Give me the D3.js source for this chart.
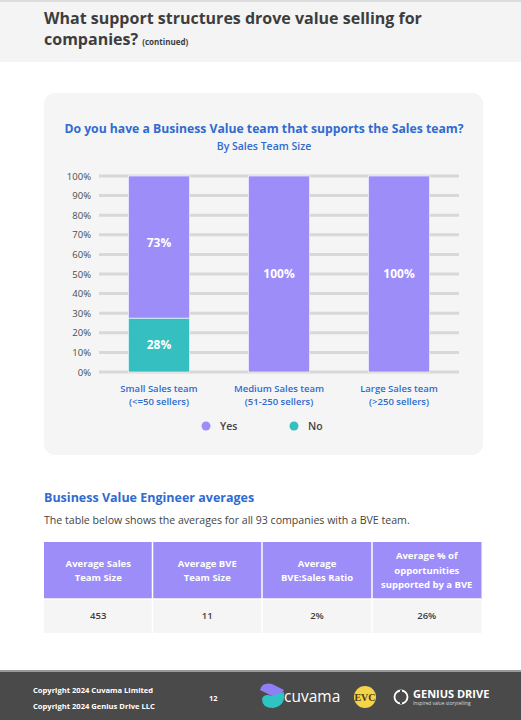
<!DOCTYPE html>
<html>
<head>
<meta charset="utf-8">
<script src="https://cdn.jsdelivr.net/npm/d3@7"></script>
<style>
  body { margin: 0; background: #fff; }
  svg { display: block; font-family: "Open Sans", sans-serif; }
</style>
</head>
<body>
<div id="page"></div>
<script>
// data
var categories = ['Small Sales team', 'Medium Sales team', 'Large Sales team'];
var subLabels = ['(<=50 sellers)', '(51-250 sellers)', '(>250 sellers)'];
var yesValues = [72.5, 100, 100];
var noValues = [27.5, 0, 0];
var yTicks = [0, 10, 20, 30, 40, 50, 60, 70, 80, 90, 100];
var tableHeaders = [['Average Sales', 'Team Size'], ['Average BVE', 'Team Size'], ['Average', 'BVE:Sales Ratio'], ['Average % of', 'opportunities', 'supported by a BVE']];
var tableValues = ['453', '11', '2%', '26%'];

var purple = '#9d8df9';
var teal = '#35bfc1';
var blue = '#2f6bd0';

var W = 521, H = 720;
var svg = d3.select('#page').append('svg').attr('width', W).attr('height', H);

// header
svg.append('rect').attr('x', 0).attr('y', 0).attr('width', W).attr('height', 62).attr('fill', '#f4f4f4');
svg.append('rect').attr('x', 0).attr('y', 0).attr('width', W).attr('height', 2).attr('fill', '#dcdcdc');
svg.append('text').attr('x', 44).attr('y', 24)
  .attr('font-size', 16).attr('font-weight', 700).attr('fill', '#3d3d3d')
  .text('What support structures drove value selling for');
var t2 = svg.append('text').attr('x', 44).attr('y', 45)
  .attr('font-size', 16).attr('font-weight', 700).attr('fill', '#3d3d3d');
t2.append('tspan').text('companies? ');
t2.append('tspan').attr('font-size', 8).text('(continued)');

// chart panel
svg.append('rect').attr('x', 44).attr('y', 93).attr('width', 439).attr('height', 362)
  .attr('rx', 11).attr('fill', '#f5f5f5');

svg.append('text').attr('x', 264).attr('y', 133).attr('text-anchor', 'middle')
  .attr('font-size', 12.2).attr('font-weight', 700).attr('fill', blue)
  .text('Do you have a Business Value team that supports the Sales team?');
svg.append('text').attr('x', 264).attr('y', 150).attr('text-anchor', 'middle')
  .attr('font-size', 10.5).attr('font-weight', 600).attr('fill', blue)
  .text('By Sales Team Size');

var x = d3.scaleBand().domain(categories).range([99, 459]).paddingInner(0.49).paddingOuter(0.245);
var y = d3.scaleLinear().domain([0, 100]).range([372, 176]);

// grid
var g = svg.append('g');
g.selectAll('.grid').data(yTicks).enter().append('line')
  .attr('x1', 99).attr('x2', 459)
  .attr('y1', function (d) { return y(d); }).attr('y2', function (d) { return y(d); })
  .attr('stroke', '#d8d8d8').attr('stroke-width', 3);

var yAxis = svg.append('g').attr('transform', 'translate(99,0)')
  .call(d3.axisLeft(y).tickValues(yTicks).tickSize(0).tickPadding(8).tickFormat(function (d) { return d + '%'; }));
yAxis.select('.domain').remove();
yAxis.selectAll('text').attr('font-family', 'Open Sans').attr('font-size', 9.5).attr('fill', '#4a4a4a');

// stacked bars
var rows = categories.map(function (c, i) { return { cat: c, Yes: yesValues[i], No: noValues[i] }; });
var stack = d3.stack().keys(['No', 'Yes'])(rows);
var colors = { Yes: purple, No: teal };

stack.forEach(function (layer) {
  var lg = svg.append('g');
  lg.selectAll('rect').data(layer.filter(function (d) { return d[1] - d[0] > 0; })).enter().append('rect')
    .attr('x', function (d) { return x(d.data.cat); })
    .attr('width', x.bandwidth())
    .attr('y', function (d) { return y(d[1]); })
    .attr('height', function (d) { return y(d[0]) - y(d[1]); })
    .attr('fill', colors[layer.key])
    .attr('stroke', '#fff').attr('stroke-width', 0.6);
  lg.selectAll('text').data(layer.filter(function (d) { return d[1] - d[0] > 0; })).enter().append('text')
    .attr('x', function (d) { return x(d.data.cat) + x.bandwidth() / 2; })
    .attr('y', function (d) { return (y(d[0]) + y(d[1])) / 2 - (d[1] - d[0] < 100 && d[0] > 0 ? 4 : 0); })
    .attr('dy', '0.35em').attr('text-anchor', 'middle')
    .attr('font-size', 12).attr('font-weight', 700).attr('fill', '#fff')
    .text(function (d) { return Math.round(d[1] - d[0]) + '%'; });
});

// x labels
var xl = svg.append('g');
categories.forEach(function (c, i) {
  var cx = x(c) + x.bandwidth() / 2;
  xl.append('text').attr('x', cx).attr('y', 392).attr('text-anchor', 'middle')
    .attr('font-size', 9.5).attr('font-weight', 600).attr('fill', blue).text(c);
  xl.append('text').attr('x', cx).attr('y', 405).attr('text-anchor', 'middle')
    .attr('font-size', 9.5).attr('font-weight', 600).attr('fill', blue).text(subLabels[i]);
});

// legend
var legend = [{ k: 'Yes', c: purple, x: 206 }, { k: 'No', c: teal, x: 294 }];
legend.forEach(function (l) {
  svg.append('circle').attr('cx', l.x).attr('cy', 426).attr('r', 4.5).attr('fill', l.c);
  svg.append('text').attr('x', l.x + 14).attr('y', 426).attr('dy', '0.35em')
    .attr('font-size', 10.5).attr('font-weight', 600).attr('fill', '#444').text(l.k);
});

// BVE section
svg.append('text').attr('x', 44).attr('y', 502)
  .attr('font-size', 12.5).attr('font-weight', 700).attr('fill', blue)
  .text('Business Value Engineer averages');
svg.append('text').attr('x', 44).attr('y', 524)
  .attr('font-size', 10.6).attr('fill', '#444')
  .text('The table below shows the averages for all 93 companies with a BVE team.');

var colX = [44, 152.5, 262, 372, 481.5];
var tbl = svg.append('g');
tableHeaders.forEach(function (lines, i) {
  var x0 = colX[i], w = colX[i + 1] - colX[i];
  tbl.append('rect').attr('x', x0).attr('y', 542).attr('width', w).attr('height', 57).attr('fill', purple);
  tbl.append('rect').attr('x', x0).attr('y', 599).attr('width', w).attr('height', 34).attr('fill', '#f5f5f5');
  var lh = 14.5, top = 570.5 - (lines.length - 1) * lh / 2;
  lines.forEach(function (ln, j) {
    tbl.append('text').attr('x', x0 + w / 2).attr('y', top + j * lh).attr('dy', '0.35em')
      .attr('text-anchor', 'middle').attr('font-size', 9.5).attr('font-weight', 700).attr('fill', '#fff').text(ln);
  });
  tbl.append('text').attr('x', x0 + w / 2).attr('y', 616).attr('dy', '0.35em')
    .attr('text-anchor', 'middle').attr('font-size', 9.5).attr('font-weight', 600).attr('fill', '#3d3d3d').text(tableValues[i]);
  if (i > 0) {
    tbl.append('line').attr('x1', x0).attr('x2', x0).attr('y1', 542).attr('y2', 633)
      .attr('stroke', '#fff').attr('stroke-width', 1.5);
  }
});
tbl.append('line').attr('x1', 44).attr('x2', 481.5).attr('y1', 599).attr('y2', 599)
  .attr('stroke', '#fff').attr('stroke-width', 1.5);

// footer
svg.append('rect').attr('x', 0).attr('y', 670).attr('width', W).attr('height', 50).attr('fill', '#4a4a4a');
svg.append('rect').attr('x', 0).attr('y', 670).attr('width', W).attr('height', 2).attr('fill', '#9a9a9a');
svg.append('text').attr('x', 33).attr('y', 693).attr('font-size', 7.6).attr('font-weight', 700).attr('fill', '#fff')
  .text('Copyright 2024 Cuvama Limited');
svg.append('text').attr('x', 33).attr('y', 709).attr('font-size', 7.6).attr('font-weight', 700).attr('fill', '#fff')
  .text('Copyright 2024 Genius Drive LLC');
svg.append('text').attr('x', 209).attr('y', 701).attr('font-size', 7.5).attr('font-weight', 700).attr('fill', '#fff')
  .text('12');
// cuvama logo
var lg1 = svg.append('g');
lg1.append('path').attr('d', 'M260,690 Q262,682 272,684 L284,690 Q280,697 272,696 Z').attr('fill', '#8f7ff5');
lg1.append('path').attr('d', 'M262,699 Q264,693 272,696 L284,692 Q286,706 273,708 Q262,708 262,699 Z').attr('fill', '#2fc3c2');
svg.append('text').attr('x', 284).attr('y', 702).attr('font-size', 15.5).attr('fill', '#fff').text('cuvama');
// EVC
svg.append('circle').attr('cx', 365).attr('cy', 697).attr('r', 11).attr('fill', '#f6d44a');
svg.append('text').attr('x', 365).attr('y', 697).attr('dy', '0.35em').attr('text-anchor', 'middle')
  .attr('font-family', 'Liberation Serif').attr('font-size', 10).attr('font-weight', 700).attr('fill', '#4a3a10').text('EVC');
// Genius drive
svg.append('circle').attr('cx', 401).attr('cy', 697).attr('r', 6.5).attr('fill', 'none').attr('stroke', '#fff').attr('stroke-width', 1.8);
svg.append('line').attr('x1', 401).attr('x2', 401).attr('y1', 690).attr('y2', 704).attr('stroke', '#4a4a4a').attr('stroke-width', 2);
svg.append('text').attr('x', 413).attr('y', 698).attr('font-size', 11).attr('font-weight', 700).attr('fill', '#fff').text('GENIUS DRIVE');
svg.append('text').attr('x', 413).attr('y', 705).attr('font-size', 4.8).attr('fill', '#ddd').text('Inspired value storytelling');
</script>
</body>
</html>
